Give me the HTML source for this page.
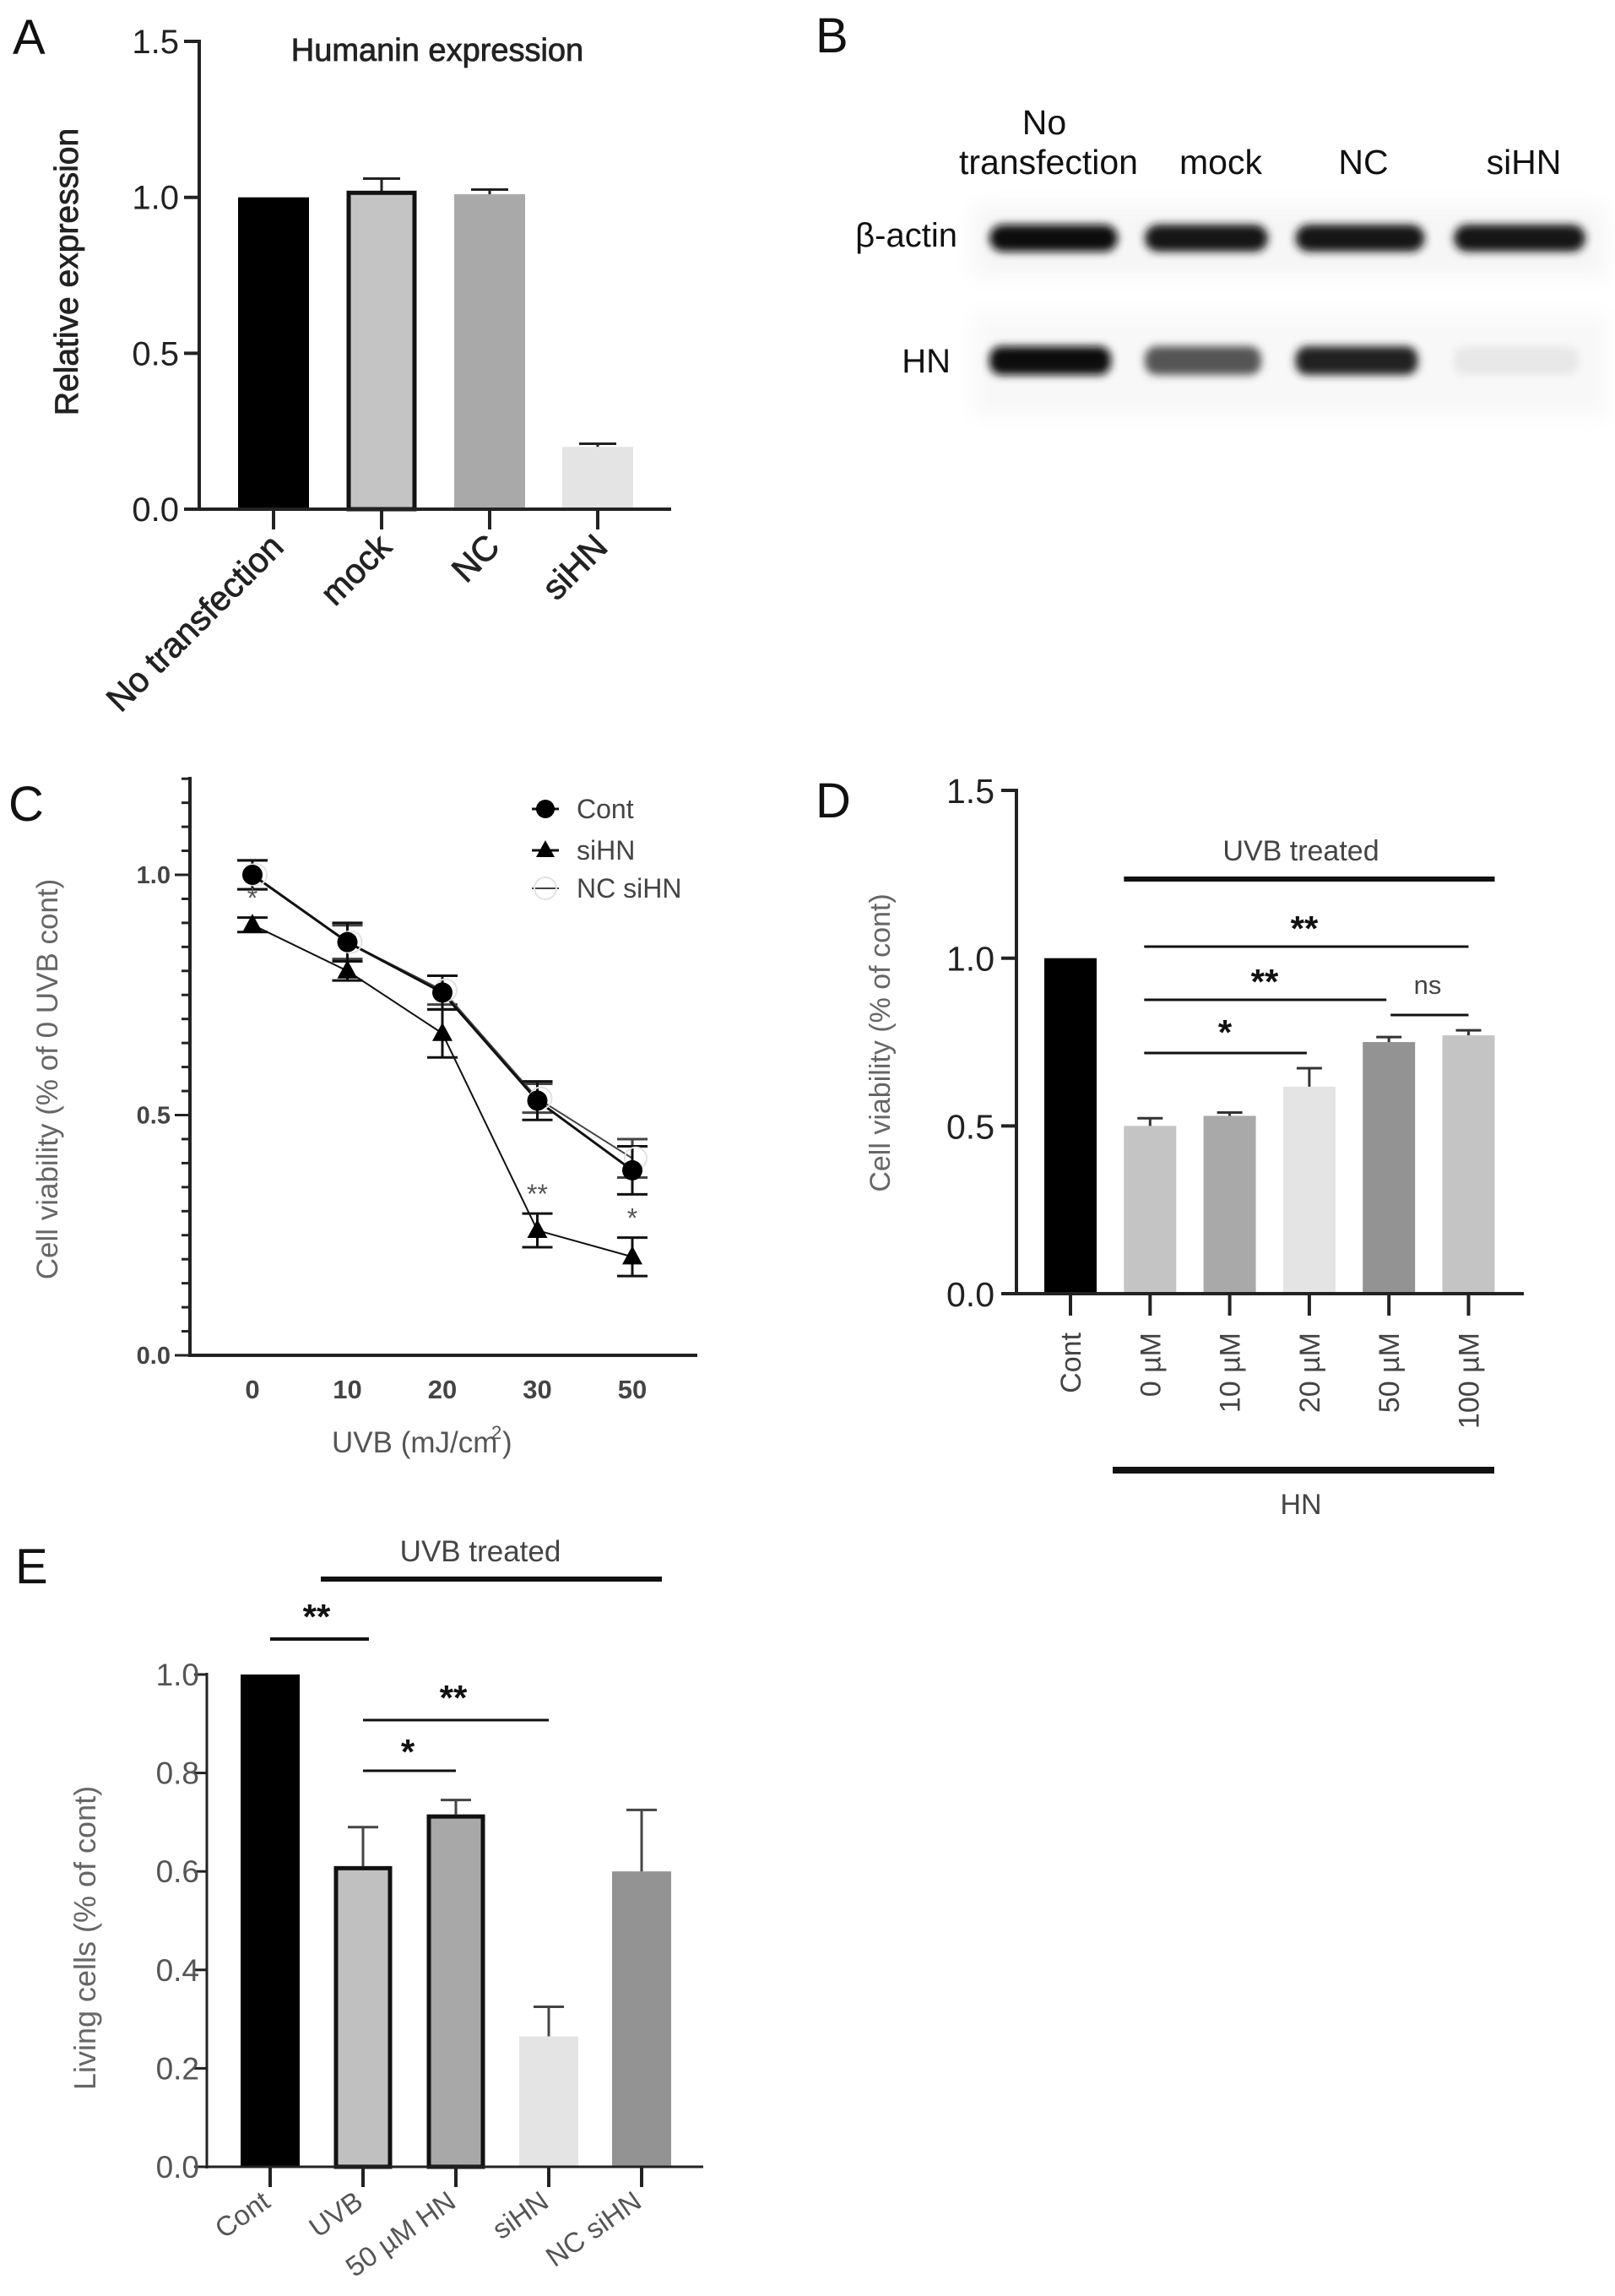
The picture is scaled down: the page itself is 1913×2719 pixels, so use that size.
<!DOCTYPE html>
<html><head><meta charset="utf-8">
<style>
html,body{margin:0;padding:0;background:#fff;}
svg{display:block;}
text{font-family:"Liberation Sans",Arial,sans-serif;}
.pl{font-family:"Liberation Sans Narrow","Liberation Sans",sans-serif;}
</style></head>
<body>
<svg id="fig" width="1913" height="2719" viewBox="0 0 1913 2719" xmlns="http://www.w3.org/2000/svg">
<defs>
<filter id="blur" x="-20%" y="-60%" width="140%" height="220%"><feGaussianBlur stdDeviation="5"/></filter>
<filter id="blur2" x="-20%" y="-60%" width="140%" height="220%"><feGaussianBlur stdDeviation="12"/></filter>
</defs>
<text class="pl" x="15" y="64" font-size="58" fill="#111">A</text>
<text class="pl" x="966" y="62" font-size="58" fill="#111">B</text>
<text class="pl" x="10" y="972" font-size="58" fill="#111">C</text>
<text class="pl" x="966" y="968" font-size="58" fill="#111">D</text>
<text class="pl" x="18" y="1875" font-size="58" fill="#111">E</text>
</svg>
<script>
// ---------- data ----------
const aCats=['No transfection','mock','NC','siHN'];
const aVals=[1.0,1.02,1.01,0.2];
const aErr=[0,0.04,0.015,0.01];
const aTicks=[0,0.5,1.0,1.5];

const bLanes=['No transfection','mock','NC','siHN'];
const bActin=[1.0,0.95,0.95,0.95];
const bHN=[1.0,0.7,0.9,0.1];

const cX=['0','10','20','30','50'];
const cCont=[1.0,0.86,0.755,0.53,0.385];
const cContErr=[0.03,0.04,0.035,0.04,0.05];
const cSi=[0.896,0.80,0.67,0.26,0.205];
const cSiErr=[0.015,0.02,0.05,0.035,0.04];
const cNC=[1.0,0.86,0.76,0.535,0.41];
const cNCErr=[0.03,0.035,0.03,0.03,0.04];
const cTicks=[0.0,0.5,1.0];
const cStars=['*','','','**','*'];

const dCats=['Cont','0 \u00b5M','10 \u00b5M','20 \u00b5M','50 \u00b5M','100 \u00b5M'];
const dVals=[1.0,0.5,0.53,0.617,0.75,0.77];
const dErr=[0,0.023,0.01,0.055,0.015,0.015];
const dTicks=[0.0,0.5,1.0,1.5];

const eCats=['Cont','UVB','50 \u00b5M HN','siHN','NC siHN'];
const eVals=[1.0,0.61,0.715,0.265,0.60];
const eErr=[0,0.08,0.03,0.06,0.125];
const eTicks=[0.0,0.2,0.4,0.6,0.8,1.0];

// ---------- helpers ----------
const NS='http://www.w3.org/2000/svg';
const svg=document.getElementById('fig');
function mk(tag,attrs,parent){const e=document.createElementNS(NS,tag);for(const k in attrs)e.setAttribute(k,attrs[k]);(parent||svg).appendChild(e);return e;}
function txt(s,attrs){const e=mk('text',attrs);e.textContent=s;return e;}
function errBar(x,y1,y2,cap,col,w){
  const g=mk('g',{});
  mk('line',{x1:x,x2:x,y1:y1,y2:y2,stroke:col,'stroke-width':w},g);
  mk('line',{x1:x-cap/2,x2:x+cap/2,y1:y2,y2:y2,stroke:col,'stroke-width':w},g);
  return g;
}

// ---------- Panel A ----------
const yA=v=>603-v*369.3, xA=i=>324+i*128;
const aColors=['#000','#c4c4c4','#a9a9a9','#e4e4e4'];
aVals.forEach((v,i)=>{
  const r=mk('rect',{x:xA(i)-42,y:yA(v),width:84,height:yA(0)-yA(v),fill:aColors[i]});
  
  
  if(i===1){r.setAttribute('stroke','#111');r.setAttribute('stroke-width','5');r.setAttribute('x',xA(i)-39);r.setAttribute('width',78);r.setAttribute('y',yA(v)+2);r.setAttribute('height',yA(0)-yA(v)-2);}
  if(aErr[i]>0){const g=errBar(xA(i),yA(v),yA(v+aErr[i]),44,'#222',3);
    
    }
  mk('line',{x1:xA(i),x2:xA(i),y1:603,y2:627,stroke:'#222','stroke-width':4});
  const t=txt(aCats[i],{x:0,y:0,'font-size':41,fill:'#222','stroke':'#222','stroke-width':0.8,'text-anchor':'end',transform:`translate(${xA(i)+14},${650}) rotate(-45)`});
  
  
});
mk('line',{x1:236,x2:236,y1:47,y2:605,stroke:'#222','stroke-width':4});
mk('line',{x1:234,x2:795,y1:603,y2:603,stroke:'#222','stroke-width':4});
aTicks.forEach(v=>{
  mk('line',{x1:218,x2:236,y1:yA(v),y2:yA(v),stroke:'#222','stroke-width':4});
  const t=txt(v.toFixed(1),{x:212,y:yA(v)+14,'font-size':40,fill:'#222','text-anchor':'end'});
  
  
});
{const t=txt('Humanin expression',{x:518,y:72,'font-size':38,fill:'#222','stroke':'#222','stroke-width':0.8,'text-anchor':'middle'});


const y=txt('Relative expression',{x:0,y:0,'font-size':39,fill:'#222','stroke':'#222','stroke-width':0.8,'text-anchor':'middle',transform:'translate(92,322) rotate(-90)'});

}

// ---------- Panel B (blot) ----------
const bX=[1248,1429,1611,1800];
const bW=[152,146,153,156];
mk('rect',{x:1152,y:243,width:752,height:86,fill:'#f6f6f6',filter:'url(#blur2)'});
mk('rect',{x:1152,y:372,width:752,height:122,fill:'#f8f8f8',filter:'url(#blur2)'});
bLanes.forEach((s,i)=>{
  const g=Math.round(255-bActin[i]*245);
  const r1=mk('rect',{x:bX[i]-bW[i]/2,y:266,width:bW[i],height:32,rx:16,fill:`rgb(${g},${g},${g})`,filter:'url(#blur)'});
  
  
  const h=Math.round(255-bHN[i]*245);
  const r2=mk('rect',{x:bX[i]-bW[i]/2,y:410,width:bW[i]-8,height:34,rx:14,fill:`rgb(${h},${h},${h})`,filter:'url(#blur)'});
  
  
});
[['No',1237,159],['transfection',1242,206],['mock',1446,206],['NC',1615,206],['siHN',1805,206]].forEach(a=>{
  const t=txt(a[0],{x:a[1],y:a[2],'font-size':41,fill:'#111','text-anchor':'middle'});
  
  
});
{const t=txt('\u03b2-actin',{x:1134,y:292,'font-size':40,fill:'#111','text-anchor':'end'});


const t2=txt('HN',{x:1126,y:441,'font-size':40,fill:'#111','text-anchor':'end'});

}

// ---------- Panel C ----------
const yC=v=>1605-v*569, xC=i=>299+i*112.5;
mk('line',{x1:225,x2:225,y1:920,y2:1607,stroke:'#222','stroke-width':4});
mk('line',{x1:223,x2:826,y1:1605,y2:1605,stroke:'#222','stroke-width':4});
for(let k=0;k<=24;k++){const v=k*0.05;const major=(k%10===0);
  mk('line',{x1:major?207:215,x2:225,y1:yC(v),y2:yC(v),stroke:'#222','stroke-width':3});}
cTicks.forEach(v=>{const t=txt(v.toFixed(1),{x:202,y:yC(v)+10,'font-size':29,'font-weight':'bold',fill:'#444','text-anchor':'end'});
  
  });
cX.forEach((s,i)=>{const t=txt(s,{x:xC(i),y:1656,'font-size':31,'font-weight':'bold',fill:'#444','text-anchor':'middle'});
  
  });
{const t=txt('UVB (mJ/cm',{x:393,y:1720,'font-size':35,fill:'#555'});


const s=mk('text',{x:0,y:0,'font-size':35,fill:'#555'});


const ts=document.createElementNS(NS,'tspan');ts.setAttribute('x',582);ts.setAttribute('y',1704);ts.setAttribute('font-size',22);ts.textContent='2';s.appendChild(ts);
const ts2=document.createElementNS(NS,'tspan');ts2.setAttribute('x',595);ts2.setAttribute('y',1720);ts2.textContent=')';s.appendChild(ts2);
const y=txt('Cell viability (% of  0 UVB cont)',{x:0,y:0,'font-size':35,fill:'#666','text-anchor':'middle',transform:'translate(68,1278) rotate(-90)','xml:space':'preserve'});

}
function series(vals,errs,col,w,name){
  const pts=vals.map((v,i)=>xC(i)+','+yC(v)).join(' ');
  const l=mk('polyline',{points:pts,fill:'none',stroke:col,'stroke-width':w});
  
  
  vals.forEach((v,i)=>{const g=mk('g',{});
    mk('line',{x1:xC(i),x2:xC(i),y1:yC(v-errs[i]),y2:yC(v+errs[i]),stroke:col,'stroke-width':3},g);
    mk('line',{x1:xC(i)-18,x2:xC(i)+18,y1:yC(v-errs[i]),y2:yC(v-errs[i]),stroke:col,'stroke-width':3},g);
    mk('line',{x1:xC(i)-18,x2:xC(i)+18,y1:yC(v+errs[i]),y2:yC(v+errs[i]),stroke:col,'stroke-width':3},g);
    
    });
}
series(cNC,cNCErr,'#444',2,'nc-sihn');
series(cSi,cSiErr,'#111',2,'sihn');
series(cCont,cContErr,'#111',3,'cont');
cNC.forEach((v,i)=>{const c=mk('circle',{cx:xC(i)+4,cy:yC(v),r:13,fill:'none',stroke:'#e2e2e2','stroke-width':2});
  
  });
cCont.forEach((v,i)=>{const c=mk('circle',{cx:xC(i),cy:yC(v),r:12,fill:'#000'});
  
  });
cSi.forEach((v,i)=>{const x=xC(i),y=yC(v);const p=mk('polygon',{points:`${x},${y-13} ${x-12},${y+9} ${x+12},${y+9}`,fill:'#000'});
  
  });
cStars.forEach((s,i)=>{if(!s)return;const v=cSi[i]+cSiErr[i];
  const t=txt(s,{x:xC(i),y:yC(v)-12,'font-size':32,fill:'#555','text-anchor':'middle'});
  
  });
// legend
{const g=mk('g',{});


mk('line',{x1:630,x2:662,y1:958,y2:958,stroke:'#111','stroke-width':3},g);mk('circle',{cx:646,cy:958,r:11,fill:'#000'},g);
mk('line',{x1:630,x2:662,y1:1007,y2:1007,stroke:'#111','stroke-width':3},g);mk('polygon',{points:'646,995 635,1015 657,1015',fill:'#000'},g);
mk('line',{x1:630,x2:662,y1:1052,y2:1052,stroke:'#444','stroke-width':2},g);mk('circle',{cx:646,cy:1052,r:13,fill:'none',stroke:'#e2e2e2','stroke-width':2},g);
[['Cont',969],['siHN',1018],['NC siHN',1063]].forEach(a=>{const t=txt(a[0],{x:683,y:a[1],'font-size':32,fill:'#444'});g.appendChild(t);});}

// ---------- Panel D ----------
const yD=v=>1532-v*397.3, xD=i=>1268+i*94.3;
const dColors=['#000','#c4c4c4','#a9a9a9','#e4e4e4','#939393','#c4c4c4'];
dVals.forEach((v,i)=>{
  const r=mk('rect',{x:xD(i)-31,y:yD(v),width:62,height:yD(0)-yD(v),fill:dColors[i]});
  
  
  if(dErr[i]>0){const g=errBar(xD(i),yD(v),yD(v+dErr[i]),30,'#333',3);
    
    }
  mk('line',{x1:xD(i),x2:xD(i),y1:1532,y2:1558,stroke:'#222','stroke-width':4});
  const t=txt(dCats[i],{x:0,y:0,'font-size':34,fill:'#444','text-anchor':'end',transform:`translate(${xD(i)+12},1578) rotate(-90)`});
  
  
});
mk('line',{x1:1204,x2:1204,y1:934,y2:1534,stroke:'#222','stroke-width':4});
mk('line',{x1:1202,x2:1805,y1:1532,y2:1532,stroke:'#222','stroke-width':4});
dTicks.forEach(v=>{mk('line',{x1:1186,x2:1204,y1:yD(v),y2:yD(v),stroke:'#222','stroke-width':4});
  const t=txt(v.toFixed(1),{x:1178,y:yD(v)+15,'font-size':41,fill:'#222','text-anchor':'end'});
  
  });
{const y=txt('Cell viability (% of cont)',{x:0,y:0,'font-size':34,fill:'#666','text-anchor':'middle',transform:'translate(1054,1235) rotate(-90)'});

}
function brk(x1,x2,y,w,label,lx,ly,fs,col,name,bold){
  const g=mk('g',{});
  
  
  mk('line',{x1:x1,x2:x2,y1:y,y2:y,stroke:'#111','stroke-width':w},g);
  const t=document.createElementNS(NS,'text');t.setAttribute('x',lx);t.setAttribute('y',ly);t.setAttribute('font-size',fs);t.setAttribute('fill',col);t.setAttribute('text-anchor','middle');
  if(bold)t.setAttribute('font-weight','bold');
  t.textContent=label;g.appendChild(t);
}
brk(xD(1)-31,xD(5)+31,1041,6,'UVB treated',1541,1019,34,'#444','uvb-treated-bracket-d',false);
brk(xD(1)-7,xD(5),1121,3,'**',1545,1114,42,'#111','sig-bracket-d-1',true);
brk(xD(1)-7,xD(4)-3,1184,3,'**',1498,1177,42,'#111','sig-bracket-d-2',true);
brk(xD(4)+2,xD(5),1202,3,'ns',1691,1177,31,'#444','sig-bracket-d-ns',false);
brk(xD(1)-7,xD(3)-3,1247,3,'*',1451,1237,42,'#111','sig-bracket-d-3',true);
brk(1318,1770,1741,8,'HN',1541,1793,34,'#444','hn-bracket-d',false);

// ---------- Panel E ----------
const yE=v=>2566-v*583, xE=i=>320+i*110;
const eColors=['#000','#c0c0c0','#a8a8a8','#e4e4e4','#939393'];
eVals.forEach((v,i)=>{
  const r=mk('rect',{x:xE(i)-35,y:yE(v),width:70,height:yE(0)-yE(v),fill:eColors[i]});
  
  
  if(i===1||i===2){r.setAttribute('stroke','#111');r.setAttribute('stroke-width','5');r.setAttribute('x',xE(i)-32);r.setAttribute('width',64);r.setAttribute('y',yE(v)+2);r.setAttribute('height',yE(0)-yE(v)-2);}
  if(eErr[i]>0){const g=errBar(xE(i),yE(v),yE(v+eErr[i]),36,'#444',3);
    
    }
  mk('line',{x1:xE(i),x2:xE(i),y1:2566,y2:2590,stroke:'#222','stroke-width':4});
  const t=txt(eCats[i],{x:0,y:0,'font-size':33,fill:'#555','text-anchor':'end',transform:`translate(${xE(i)+2},2612) rotate(-35)`});
  
  
});
mk('line',{x1:245,x2:245,y1:1981,y2:2568,stroke:'#222','stroke-width':3});
mk('line',{x1:243,x2:833,y1:2566,y2:2566,stroke:'#222','stroke-width':3});
eTicks.forEach(v=>{mk('line',{x1:230,x2:245,y1:yE(v),y2:yE(v),stroke:'#222','stroke-width':3});
  const t=txt(v.toFixed(1),{x:236,y:yE(v)+13,'font-size':37,fill:'#555','text-anchor':'end'});
  
  });
{const y=txt('Living cells (% of cont)',{x:0,y:0,'font-size':36,fill:'#666','text-anchor':'middle',transform:'translate(113,2295) rotate(-90)'});

}
brk(380,784,1870,6,'UVB treated',569,1849,35,'#444','uvb-treated-bracket-e',false);
brk(xE(0),xE(1)+7,1941,4,'**',375,1929,42,'#111','sig-bracket-e-1',true);
brk(xE(1),xE(3),2037,3,'**',537,2025,42,'#111','sig-bracket-e-2',true);
brk(xE(1),xE(2),2097,3,'*',483,2089,42,'#111','sig-bracket-e-3',true);
</script>
</body></html>
